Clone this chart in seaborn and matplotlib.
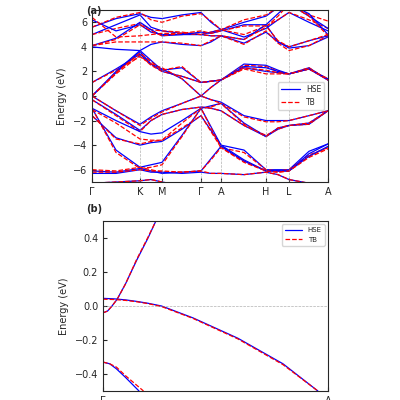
import numpy as np
import pandas as pd
import matplotlib
matplotlib.use("Agg")
import matplotlib.pyplot as plt
import seaborn as sns

sns.set_style("ticks")
plt.rcParams['font.family'] = ['DejaVu Sans']

# high-symmetry path (a)
klabels = ["Γ", "K", "M", "Γ", "A", "H", "L", "A"]
kticks = [0, 48, 70, 109, 129, 174, 197, 236]
# sample positions: each node and segment midpoint
kpos = [0, 24, 48, 59, 70, 90, 109, 119, 129, 152, 174, 186, 197, 217, 236]

hse_bands = [
    [0.0, 1.9, 3.6, 2.6, 2.0, 1.6, 1.1, 1.2, 1.3, 2.6, 2.5, 2.1, 1.8, 2.3, 1.3],
    [1.1, 2.2, 3.4, 2.6, 2.2, 1.4, 0.0, 0.7, 1.3, 2.3, 2.0, 1.9, 1.8, 2.2, 1.3],
    [0.0, 2.0, 3.7, 2.9, 2.1, 2.3, 1.1, 1.2, 1.3, 2.4, 2.3, 2.0, 1.8, 2.2, 1.4],
    [4.0, 3.8, 3.7, 4.2, 4.4, 4.2, 4.1, 4.4, 4.9, 4.3, 5.2, 4.4, 3.9, 4.1, 4.8],
    [5.0, 5.8, 6.6, 5.6, 5.3, 5.1, 5.0, 5.2, 5.4, 4.8, 5.5, 6.2, 6.8, 6.0, 5.3],
    [5.6, 6.3, 6.7, 6.4, 6.3, 6.6, 6.8, 6.0, 5.4, 6.0, 6.5, 7.2, 7.5, 6.5, 5.5],
    [6.2, 5.3, 5.8, 5.2, 5.0, 5.0, 5.0, 4.9, 4.9, 4.6, 5.8, 6.7, 7.5, 6.7, 5.0],
    [4.1, 4.7, 6.0, 5.4, 4.9, 5.0, 5.2, 5.1, 5.3, 5.8, 5.8, 4.4, 4.0, 4.5, 4.9],
    [0.0, -1.2, -2.3, -1.7, -1.2, -0.6, 0.0, -0.3, -0.5, -1.6, -2.0, -2.0, -2.0, -1.6, -1.2],
    [-0.3, -1.5, -2.8, -2.0, -1.5, -1.1, -0.9, -1.0, -1.2, -2.4, -3.3, -2.7, -2.4, -2.3, -1.2],
    [-1.0, -2.0, -2.9, -3.1, -3.0, -2.0, -1.0, -0.8, -0.6, -2.2, -3.3, -2.6, -2.4, -2.2, -1.2],
    [-1.6, -3.4, -4.0, -3.8, -3.7, -2.7, -1.6, -2.8, -4.0, -4.4, -6.0, -6.0, -6.0, -4.5, -3.9],
    [-1.0, -4.4, -5.8, -5.6, -5.4, -3.2, -1.0, -2.5, -4.0, -5.2, -6.1, -6.1, -6.1, -4.7, -3.9],
    [-6.1, -6.2, -5.9, -6.1, -6.3, -6.2, -6.1, -5.1, -4.1, -5.3, -6.1, -6.1, -6.1, -4.9, -4.1],
    [-6.3, -6.3, -6.0, -6.2, -6.2, -6.3, -6.2, -6.3, -6.3, -6.4, -6.2, -6.4, -6.8, -7.1, -7.2],
    [-7.1, -7.0, -6.9, -6.8, -7.0, -7.3, -7.5, -7.5, -7.5, -7.5, -7.5, -7.5, -7.5, -7.5, -7.5],
]
tb_bands = [
    [0.0, 1.8, 3.3, 2.5, 2.0, 1.6, 1.1, 1.2, 1.3, 2.5, 2.4, 2.0, 1.8, 2.3, 1.3],
    [1.1, 2.1, 3.2, 2.6, 2.3, 1.4, 0.0, 0.7, 1.3, 2.2, 1.8, 1.8, 1.8, 2.2, 1.3],
    [0.0, 1.9, 3.5, 2.8, 2.1, 2.4, 1.1, 1.2, 1.3, 2.3, 2.1, 1.9, 1.8, 2.2, 1.4],
    [4.1, 4.4, 4.4, 4.4, 4.4, 4.3, 4.1, 4.5, 4.9, 4.2, 5.3, 4.3, 3.7, 4.1, 4.9],
    [5.0, 5.5, 5.9, 5.4, 5.3, 5.2, 5.0, 5.2, 5.4, 5.0, 5.7, 6.2, 6.8, 6.2, 5.5],
    [5.6, 6.4, 6.8, 6.2, 6.0, 6.5, 6.7, 6.1, 5.4, 6.2, 6.6, 7.2, 7.5, 6.6, 6.1],
    [6.4, 4.8, 4.9, 5.0, 5.1, 5.1, 5.0, 4.9, 4.9, 4.6, 5.6, 6.5, 7.5, 6.5, 4.9],
    [4.1, 4.6, 5.8, 5.3, 4.9, 5.1, 5.3, 5.1, 5.3, 5.7, 5.7, 4.5, 4.0, 4.5, 5.0],
    [0.0, -1.2, -2.4, -1.8, -1.3, -0.6, 0.0, -0.3, -0.6, -1.7, -2.1, -2.1, -2.0, -1.6, -1.2],
    [-0.3, -1.6, -2.9, -2.0, -1.5, -1.1, -0.9, -1.0, -1.2, -2.4, -3.2, -2.7, -2.4, -2.3, -1.2],
    [-1.1, -2.2, -3.5, -3.6, -3.6, -2.2, -1.0, -0.9, -0.6, -2.3, -3.3, -2.6, -2.4, -2.2, -1.2],
    [-1.6, -3.5, -3.9, -3.7, -3.6, -2.6, -1.6, -2.9, -4.2, -4.6, -6.0, -6.1, -6.0, -4.8, -4.2],
    [-1.0, -4.6, -5.9, -5.8, -5.6, -3.3, -1.0, -2.6, -4.2, -5.3, -6.1, -6.2, -6.1, -4.9, -4.2],
    [-6.0, -6.1, -5.8, -6.0, -6.2, -6.2, -6.1, -5.2, -4.2, -5.4, -6.1, -6.2, -6.1, -5.0, -4.3],
    [-6.2, -6.2, -6.0, -6.1, -6.1, -6.2, -6.1, -6.3, -6.3, -6.4, -6.2, -6.4, -6.8, -7.1, -7.2],
    [-7.1, -7.0, -6.9, -6.8, -7.0, -7.3, -7.5, -7.5, -7.5, -7.5, -7.5, -7.5, -7.5, -7.5, -7.5],
]

# zoom (b): Γ -> A
b_steep_x = [0, 0.02, 0.04, 0.063, 0.1, 0.15, 0.2, 0.235]
b_steep_hse = [-0.04, -0.03, 0.0, 0.04, 0.13, 0.27, 0.40, 0.5]
b_steep_tb = [-0.04, -0.03, 0.0, 0.04, 0.13, 0.275, 0.405, 0.5]
b_flat_x = [0, 0.05, 0.1, 0.15, 0.2, 0.26, 0.4, 0.6, 0.8, 0.955]
b_flat_hse = [0.045, 0.042, 0.036, 0.027, 0.016, 0.0, -0.07, -0.19, -0.34, -0.5]
b_flat_tb = [0.04, 0.038, 0.033, 0.025, 0.014, -0.003, -0.073, -0.194, -0.345, -0.5]
b_low_x_hse = [0, 0.03, 0.06, 0.1, 0.13, 0.16]
b_low_hse = [-0.33, -0.34, -0.37, -0.42, -0.46, -0.5]
b_low_x_tb = [0, 0.03, 0.06, 0.1, 0.14, 0.18]
b_low_tb = [-0.33, -0.34, -0.36, -0.41, -0.455, -0.5]

fig = plt.figure(figsize=(4, 4), dpi=100)
ax1 = fig.add_axes([0.23, 0.545, 0.59, 0.43])
ax2 = fig.add_axes([0.2575, 0.0225, 0.5625, 0.425])

for i, (h, t) in enumerate(zip(hse_bands, tb_bands)):
    df = pd.DataFrame({"k": kpos, "h": h, "t": t})
    sns.lineplot(data=df, x="k", y="h", ax=ax1, color="blue", lw=0.9, sort=False,
                 estimator=None, label="HSE" if i == 0 else None, legend=False)
    sns.lineplot(data=df, x="k", y="t", ax=ax1, color="red", lw=0.9, ls="--", sort=False,
                 estimator=None, label="TB" if i == 0 else None, legend=False)
for k in kticks[1:-1]:
    ax1.axvline(k, color="grey", ls="--", lw=0.5, alpha=0.6)
ax1.set_xlim(0, 236)
ax1.set_ylim(-7, 7)
ax1.set_xticks(kticks)
ax1.set_xticklabels(klabels)
ax1.set_yticks([-6, -4, -2, 0, 2, 4, 6])
ax1.set_xlabel("")
ax1.set_ylabel("Energy (eV)", fontsize=7)
ax1.tick_params(direction="in", labelsize=7, length=3)
ax1.legend(loc="center right", fontsize=5.5, frameon=True, handlelength=2.5)
fig.text(0.215, 0.985, "(a)", fontsize=7, fontweight="bold", va="top")

sns.lineplot(x=b_steep_x, y=b_steep_hse, ax=ax2, color="blue", lw=0.9, label="HSE", estimator=None, sort=False)
sns.lineplot(x=b_steep_x, y=b_steep_tb, ax=ax2, color="red", lw=0.9, ls="--", label="TB", estimator=None, sort=False)
sns.lineplot(x=b_flat_x, y=b_flat_hse, ax=ax2, color="blue", lw=0.9, estimator=None, sort=False)
sns.lineplot(x=b_flat_x, y=b_flat_tb, ax=ax2, color="red", lw=0.9, ls="--", estimator=None, sort=False)
sns.lineplot(x=b_low_x_hse, y=b_low_hse, ax=ax2, color="blue", lw=0.9, estimator=None, sort=False)
sns.lineplot(x=b_low_x_tb, y=b_low_tb, ax=ax2, color="red", lw=0.9, ls="--", estimator=None, sort=False)
ax2.axhline(0, color="grey", ls="--", lw=0.5, alpha=0.6)
ax2.set_xlim(0, 1)
ax2.set_ylim(-0.5, 0.5)
ax2.set_xticks([0, 1])
ax2.set_xticklabels(["Γ", "A"])
ax2.set_yticks([-0.4, -0.2, 0.0, 0.2, 0.4])
ax2.set_ylabel("Energy (eV)", fontsize=7)
ax2.tick_params(direction="in", labelsize=7, length=3)
ax2.legend(loc="upper right", fontsize=5, frameon=True, handlelength=2.5)
fig.text(0.215, 0.49, "(b)", fontsize=7, fontweight="bold", va="top")

fig.savefig("out.png", dpi=100)
